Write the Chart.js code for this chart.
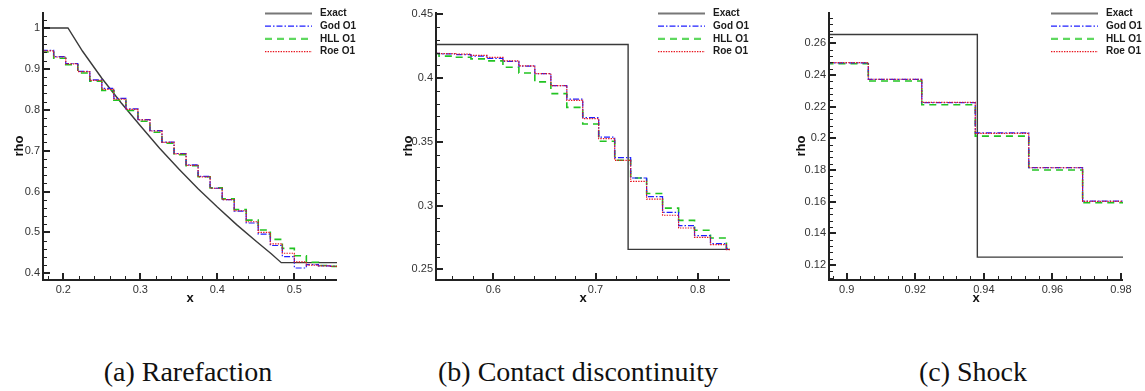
<!DOCTYPE html>
<html>
<head>
<meta charset="utf-8">
<script src="https://cdn.jsdelivr.net/npm/chart.js@4.4.1/dist/chart.umd.min.js"></script>
<style>
  body { margin: 0; background: #fff; width: 1145px; height: 391px; position: relative; overflow: hidden; }
  canvas { position: absolute; top: 0; }
  .cap { position: absolute; top: 358px; width: 400px; margin-left: -200px; text-align: center;
         font-family: 'Liberation Serif', serif; font-size: 28px; line-height: 28px; color: #111; }
</style>
</head>
<body>
<canvas id="rare" width="380" height="310" style="left:0"></canvas>
<canvas id="cont" width="380" height="310" style="left:380px"></canvas>
<canvas id="shock" width="385" height="310" style="left:760px"></canvas>
<div class="cap" style="left:188px">(a) Rarefaction</div>
<div class="cap" style="left:578px">(b) Contact discontinuity</div>
<div class="cap" style="left:973px">(c) Shock</div>
<script>
const names = ['Exact', 'God O1', 'HLL O1', 'Roe O1'];

// (a) rarefaction: cell left edges, one value per cell
const rareEdges = [0.1719, 0.1875, 0.2031, 0.2188, 0.2344, 0.25, 0.2656, 0.2813, 0.2969, 0.3125, 0.3281, 0.3438, 0.3594,
  0.375, 0.3906, 0.4063, 0.4219, 0.4375, 0.4531, 0.4688, 0.4844, 0.5, 0.5156, 0.5313, 0.5469, 0.5625];
const rareRoe = [0.944, 0.929, 0.912, 0.893, 0.872, 0.850, 0.826, 0.801, 0.775, 0.748, 0.720, 0.692, 0.664,
  0.636, 0.608, 0.580, 0.553, 0.526, 0.500, 0.472, 0.449, 0.428, 0.420, 0.418, 0.417];
const rareGod = [0.945, 0.930, 0.913, 0.894, 0.873, 0.852, 0.828, 0.802, 0.776, 0.749, 0.721, 0.693, 0.665,
  0.637, 0.608, 0.580, 0.552, 0.523, 0.496, 0.468, 0.441, 0.413, 0.421, 0.418, 0.417];
const rareHll = [0.941, 0.926, 0.910, 0.890, 0.870, 0.847, 0.823, 0.798, 0.772, 0.745, 0.718, 0.690, 0.663,
  0.636, 0.609, 0.582, 0.556, 0.530, 0.506, 0.483, 0.461, 0.443, 0.427, 0.419, 0.417];
const rareExactX = [0.17, 0.206, 0.225, 0.25, 0.275, 0.3, 0.325, 0.35, 0.375, 0.4, 0.425, 0.45, 0.47, 0.483, 0.56];
const rareExactY = [1, 1, 0.943, 0.877, 0.817, 0.761, 0.706, 0.655, 0.607, 0.562, 0.519, 0.479, 0.448, 0.426, 0.426];
const rareXTicks = [0.2, 0.3, 0.4, 0.5];
const rareYTicks = [0.4, 0.5, 0.6, 0.7, 0.8, 0.9, 1];

// (b) contact discontinuity
const contEdges = [0.5313, 0.5469, 0.5625, 0.5781, 0.5938, 0.6094, 0.625, 0.6406, 0.6563, 0.6719, 0.6875,
  0.7031, 0.7188, 0.7344, 0.75, 0.7656, 0.7813, 0.7969, 0.8125, 0.8281, 0.8438];
const contRoe = [0.4195, 0.4192, 0.4187, 0.4178, 0.4162, 0.4135, 0.4095, 0.4035, 0.394, 0.3825, 0.3682,
  0.3525, 0.3355, 0.319, 0.305, 0.2924, 0.2824, 0.2751, 0.2694, 0.2655];
const contGod = [0.4193, 0.419, 0.4183, 0.4172, 0.4155, 0.413, 0.4093, 0.4035, 0.394, 0.3835, 0.369,
  0.3537, 0.3376, 0.3216, 0.307, 0.2946, 0.2843, 0.2764, 0.2701, 0.2658];
const contHll = [0.419, 0.4172, 0.4163, 0.415, 0.4135, 0.4085, 0.404, 0.397, 0.3878, 0.377, 0.364,
  0.3504, 0.3355, 0.3216, 0.3094, 0.298, 0.2884, 0.2806, 0.2745, 0.2665];
const contExactX = [0.53, 0.7319, 0.7319, 0.845];
const contExactY = [0.4263, 0.4263, 0.2656, 0.2656];
const contXTicks = [0.6, 0.7, 0.8];
const contYTicks = [0.25, 0.3, 0.35, 0.4, 0.45];

// (c) shock
const shockEdges = [0.8906, 0.9063, 0.9219, 0.9375, 0.9531, 0.9688, 0.9844];
const shockRoe = [0.2478, 0.2373, 0.2227, 0.2031, 0.1814, 0.1602];
const shockGod = [0.2477, 0.2372, 0.2226, 0.2034, 0.1815, 0.1603];
const shockHll = [0.2472, 0.2362, 0.2212, 0.2014, 0.1800, 0.1593];
const shockExactX = [0.89, 0.9381, 0.9381, 0.985];
const shockExactY = [0.2656, 0.2656, 0.125, 0.125];
const shockXTicks = [0.9, 0.92, 0.94, 0.96, 0.98];
const shockYTicks = [0.12, 0.14, 0.16, 0.18, 0.2, 0.22, 0.24, 0.26];

const sans = "'Liberation Sans', Arial, sans-serif";
const looks = [
  { borderColor: '#3a3a3a', borderWidth: 1.4, borderDash: [], order: 3, keyColor: '#777', keyWidth: 2.2 },
  { borderColor: '#1f1fff', borderWidth: 1.2, borderDash: [6, 2, 1.5, 2], order: 1, keyWidth: 1.2 },
  { borderColor: '#22c322', borderWidth: 1.6, borderDash: [7, 5], order: 2, keyColor: '#5fd85f', keyWidth: 2.2 },
  { borderColor: '#e8141e', borderWidth: 1.2, borderDash: [1.4, 1.2], order: 0, keyWidth: 1.2 }
];

const cells = (edges, vals) => edges.map((e, i) => ({ x: e, y: vals[Math.min(i, vals.length - 1)] }));
const pts = (xs, ys) => xs.map((x, i) => ({ x: x, y: ys[i] }));

// axis lines, inward major/minor ticks and the legend box
const frame = {
  id: 'frame',
  afterDraw(chart, args, o) {
    const { ctx, chartArea: a, scales: { x, y } } = chart;
    ctx.save();
    ctx.strokeStyle = '#222';
    ctx.lineWidth = 1;
    ctx.beginPath();
    for (let v = Math.ceil(x.min / o.xMinor) * o.xMinor; v <= x.max; v += o.xMinor) {
      const px = Math.round(x.getPixelForValue(v)) + 0.5;
      ctx.moveTo(px, a.bottom); ctx.lineTo(px, a.bottom - 4);
    }
    for (let v = Math.ceil(y.min / o.yMinor) * o.yMinor; v <= y.max; v += o.yMinor) {
      const py = Math.round(y.getPixelForValue(v)) + 0.5;
      ctx.moveTo(a.left, py); ctx.lineTo(a.left + 4, py);
    }
    ctx.stroke();
    ctx.lineWidth = 2;
    ctx.beginPath();
    x.ticks.forEach(t => {
      const px = Math.round(x.getPixelForValue(t.value));
      ctx.moveTo(px, a.bottom); ctx.lineTo(px, a.bottom - 7);
    });
    y.ticks.forEach(t => {
      const py = Math.round(y.getPixelForValue(t.value));
      ctx.moveTo(a.left, py); ctx.lineTo(a.left + 7, py);
    });
    ctx.moveTo(a.left, a.top); ctx.lineTo(a.left, a.bottom); ctx.lineTo(a.right, a.bottom);
    ctx.stroke();

    ctx.font = 'bold 10px ' + sans;
    ctx.textBaseline = 'middle';
    ctx.fillStyle = '#1a1a1a';
    chart.data.datasets.forEach((ds, i) => {
      const ly = 13.5 + i * 12.7;
      ctx.strokeStyle = ds.keyColor || ds.borderColor;
      ctx.lineWidth = ds.keyWidth;
      ctx.setLineDash(ds.borderDash);
      ctx.beginPath();
      ctx.moveTo(a.right - 72, ly); ctx.lineTo(a.right - 25, ly);
      ctx.stroke();
      ctx.setLineDash([]);
      ctx.fillText(ds.label, a.right - 17, ly);
    });
    ctx.restore();
  }
};

function panel(id, p) {
  const series = [pts(p.exactX, p.exactY), cells(p.edges, p.god), cells(p.edges, p.hll), cells(p.edges, p.roe)];
  new Chart(document.getElementById(id), {
    type: 'line',
    data: {
      datasets: series.map((d, i) => Object.assign({
        label: names[i], data: d, pointRadius: 0, fill: false, tension: 0, stepped: i > 0
      }, looks[i]))
    },
    options: {
      responsive: false,
      animation: false,
      layout: { autoPadding: false, padding: { left: 0, right: p.padRight, top: 12, bottom: 0 } },
      plugins: {
        legend: { display: false },
        tooltip: { enabled: false },
        frame: { xMinor: p.xMinor, yMinor: p.yMinor }
      },
      scales: {
        x: {
          type: 'linear', min: p.xMin, max: p.xMax,
          grid: { display: false, drawTicks: false }, border: { display: false },
          afterBuildTicks: s => { s.ticks = p.xTicks.map(v => ({ value: v })); },
          afterFit: s => { s.height = 30; },
          ticks: { padding: 3, color: '#333', font: { family: sans, size: 11 }, maxRotation: 0, callback: v => String(v) },
          title: { display: true, text: 'x', color: '#111', font: { family: sans, size: 13, weight: 'bold' }, padding: { top: 0, bottom: 4 } }
        },
        y: {
          type: 'linear', min: p.yMin, max: p.yMax,
          grid: { display: false, drawTicks: false }, border: { display: false },
          afterBuildTicks: s => { s.ticks = p.yTicks.map(v => ({ value: v })); },
          afterFit: s => { s.width = p.yWidth; },
          ticks: { padding: 3, color: '#333', font: { family: sans, size: 11 }, callback: v => String(v) },
          title: { display: true, text: 'rho', color: '#111', font: { family: sans, size: 13, weight: 'bold' }, padding: { top: p.rhoPad, bottom: 0 } }
        }
      }
    },
    plugins: [frame]
  });
}

panel('rare', {
  edges: rareEdges, roe: rareRoe, god: rareGod, hll: rareHll, exactX: rareExactX, exactY: rareExactY,
  xTicks: rareXTicks, yTicks: rareYTicks, xMin: 0.1736, xMax: 0.5554, yMin: 0.3836, yMax: 1.039,
  xMinor: 0.02, yMinor: 0.02, yWidth: 43, padRight: 43, rhoPad: 12
});
panel('cont', {
  edges: contEdges, roe: contRoe, god: contGod, hll: contHll, exactX: contExactX, exactY: contExactY,
  xTicks: contXTicks, yTicks: contYTicks, xMin: 0.5439, xMax: 0.8316, yMin: 0.2416, yMax: 0.4518,
  xMinor: 0.02, yMinor: 0.01, yWidth: 56, padRight: 30, rhoPad: 20.5
});
panel('shock', {
  edges: shockEdges, roe: shockRoe, god: shockGod, hll: shockHll, exactX: shockExactX, exactY: shockExactY,
  xTicks: shockXTicks, yTicks: shockYTicks, xMin: 0.89484, xMax: 0.98058, yMin: 0.11053, yMax: 0.27977,
  xMinor: 0.004, yMinor: 0.004, yWidth: 69, padRight: 22, rhoPad: 34
});
</script>
</body>
</html>
